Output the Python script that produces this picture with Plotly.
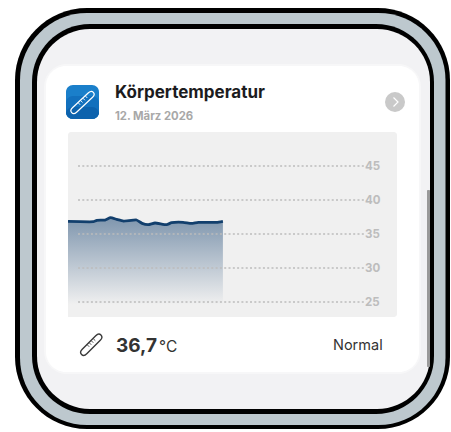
import plotly.graph_objects as go

title = "Körpertemperatur"
date_label = "12. März 2026"
value_label = "36,7"
unit_label = "°C"
status_label = "Normal"
hours = [0, 0.9, 1.85, 2.1, 2.7, 3.1, 3.55, 4.05, 5.0, 5.4, 5.85, 6.35, 7.2, 7.55, 8.4, 9.0, 9.5, 10.85, 11.3]
temps = [36.87, 36.81, 36.81, 37.01, 37.06, 37.4, 37.16, 36.91, 37.06, 36.57, 36.37, 36.62, 36.37, 36.66, 36.72, 36.57, 36.72, 36.72, 36.87]
ticks = [25, 30, 35, 40, 45]

W, H = 451, 432
L, R, T, B = 68, 397, 132, 317
YMIN, YMAX = 22.8, 50.0
XMAX = 24.0
GRID_START, GRID_END = 0.73, 21.6


def px(x):
    return (x - L) / (R - L)


def py(y):
    return (B - y) / (B - T)


def rrect(x0, y0, x1, y1, r):
    k = r * 0.45
    pts = [
        f"M{px(x0 + r)},{py(y0)}", f"L{px(x1 - r)},{py(y0)}",
        f"C{px(x1 - k)},{py(y0)} {px(x1)},{py(y0 + k)} {px(x1)},{py(y0 + r)}",
        f"L{px(x1)},{py(y1 - r)}",
        f"C{px(x1)},{py(y1 - k)} {px(x1 - k)},{py(y1)} {px(x1 - r)},{py(y1)}",
        f"L{px(x0 + r)},{py(y1)}",
        f"C{px(x0 + k)},{py(y1)} {px(x0)},{py(y1 - k)} {px(x0)},{py(y1 - r)}",
        f"L{px(x0)},{py(y0 + r)}",
        f"C{px(x0)},{py(y0 + k)} {px(x0 + k)},{py(y0)} {px(x0 + r)},{py(y0)}Z",
    ]
    return " ".join(pts)


def box(x0, y0, x1, y1, r, color):
    return dict(type="path", xref="paper", yref="paper", path=rrect(x0, y0, x1, y1, r),
                fillcolor=color, line=dict(width=0), layer="below")


def stroke(points, color, width, closed=False, fill="rgba(0,0,0,0)"):
    p = "M" + " L".join(f"{px(x)},{py(y)}" for x, y in points) + ("Z" if closed else "")
    return dict(type="path", xref="paper", yref="paper", path=p, fillcolor=fill,
                line=dict(color=color, width=width), layer="above")


def thermometer(x0, y0, x1, y1, hw, color, width):
    dx, dy = x1 - x0, y1 - y0
    n = (dx * dx + dy * dy) ** 0.5
    ux, uy = dx / n, dy / n
    nx, ny = -uy, ux
    a = (x0 + nx * hw, y0 + ny * hw)
    b = (x1 + nx * hw, y1 + ny * hw)
    c = (x1 - nx * hw, y1 - ny * hw)
    d = (x0 - nx * hw, y0 - ny * hw)
    tip = (x1 + ux * hw * 1.3, y1 + uy * hw * 1.3)
    back = (x0 - ux * hw * 1.3, y0 - uy * hw * 1.3)
    path = (f"M{px(a[0])},{py(a[1])} L{px(b[0])},{py(b[1])} Q{px(tip[0] + nx * hw)},{py(tip[1] + ny * hw)} {px(tip[0])},{py(tip[1])} "
            f"Q{px(tip[0] - nx * hw)},{py(tip[1] - ny * hw)} {px(c[0])},{py(c[1])} L{px(d[0])},{py(d[1])} "
            f"Q{px(back[0] - nx * hw)},{py(back[1] - ny * hw)} {px(back[0])},{py(back[1])} "
            f"Q{px(back[0] + nx * hw)},{py(back[1] + ny * hw)} {px(a[0])},{py(a[1])}Z")
    shapes = [dict(type="path", xref="paper", yref="paper", path=path, fillcolor="rgba(0,0,0,0)",
                   line=dict(color=color, width=width), layer="above")]
    for t in (0.35, 0.5, 0.65, 0.8):
        mx, my = x0 + dx * t, y0 + dy * t
        shapes.append(stroke([(mx, my), (mx - nx * hw * 0.9, my - ny * hw * 0.9)], color, 0.9))
    return shapes


shapes = [
    box(15, 8, 450, 429, 72, "#000000"),
    box(20, 13, 445.5, 425, 67, "#bdc8ce"),
    box(32, 24, 434, 414, 58, "#000000"),
    box(37, 29, 430, 409, 53, "#f2f2f4"),
    box(44, 64, 421, 374, 23, "#f7f7f8"),
    box(46, 66, 419, 372, 20, "#ffffff"),
    box(427, 190, 430, 367, 1, "#9a9a9a"),
    box(L, T, R, B, 3, "#f0f0f0"),
    box(66, 85, 99, 119, 7, "#1a7fca"),
    box(66, 96, 99, 119, 7, "#1270bd"),
    box(66, 107, 99, 119, 7, "#0c62ad"),
    dict(type="circle", xref="paper", yref="paper", x0=px(385), x1=px(405), y0=py(112), y1=py(92),
         fillcolor="#c9c9c9", line=dict(width=0), layer="below"),
    stroke([(393.5, 97.5), (398, 102), (393.5, 106.5)], "#ffffff", 1.2),
]
shapes += thermometer(74.5, 110, 90.5, 95, 3.0, "#ffffff", 1.2)
shapes += thermometer(84.5, 351.5, 98, 338, 3.2, "#3a3a3a", 1.4)

grid_x, grid_y = [], []
for t in ticks:
    grid_x += [GRID_START, GRID_END, None]
    grid_y += [t, t, None]

fig = go.Figure()
fig.add_trace(go.Scatter(x=[hours[0], hours[-1]], y=[YMIN, YMIN], mode="lines", hoverinfo="skip",
                         line=dict(width=0, color="rgba(0,0,0,0)")))
fig.add_trace(go.Scatter(x=hours, y=temps, mode="lines", fill="tonexty",
                         fillgradient=dict(type="vertical",
                                           colorscale=[[0, "rgba(240,240,240,1)"], [0.125, "rgba(240,240,240,1)"], [1, "rgba(127,150,174,1)"]]),
                         line=dict(color="#123f6d", width=2.8, shape="spline", smoothing=0.4)))
fig.add_trace(go.Scatter(x=grid_x, y=grid_y, mode="lines", hoverinfo="skip",
                         line=dict(color="#bcbcbc", width=1.4, dash="2px,2.3px")))

annotations = [
    dict(text=f"<b>{title}</b>", x=px(113), y=py(92), font=dict(size=17, color="#1c1c1e")),
    dict(text=f"<b>{date_label}</b>", x=px(113), y=py(116), font=dict(size=11.3, color="#a8a8a8")),
    dict(text=f"<b>{value_label}</b>", x=px(113.5), y=py(345), font=dict(size=19, color="#333333")),
    dict(text=unit_label, x=px(156.5), y=py(346), font=dict(size=15.5, color="#333333")),
]
annotations = [dict(a, xref="paper", yref="paper", xanchor="left", yanchor="middle", showarrow=False) for a in annotations]
annotations.append(dict(text=status_label, xref="paper", yref="paper", x=px(385), y=py(344), xanchor="right",
                        yanchor="middle", showarrow=False, font=dict(size=14.5, color="#333333")))

fig.update_layout(
    width=W, height=H, autosize=False, showlegend=False,
    margin=dict(l=L, r=W - R, t=T, b=H - B, pad=0),
    paper_bgcolor="#ffffff", plot_bgcolor="rgba(0,0,0,0)",
    font=dict(family="Inter, Roboto, sans-serif"),
    xaxis=dict(range=[0, XMAX], visible=False, fixedrange=True),
    yaxis=dict(range=[YMIN, YMAX], side="right", anchor="free", position=px(364), tickvals=ticks,
               tickfont=dict(size=11.5, color="#bdbdbd", family="Inter, Roboto, sans-serif", weight="bold"),
               showgrid=False, zeroline=False, showline=False, ticks="", ticklen=0, fixedrange=True),
    shapes=shapes, annotations=annotations,
)
fig.write_html("out.html", config=dict(displayModeBar=False),
               post_script="document.body.style.margin='0';document.body.style.overflow='hidden';")
